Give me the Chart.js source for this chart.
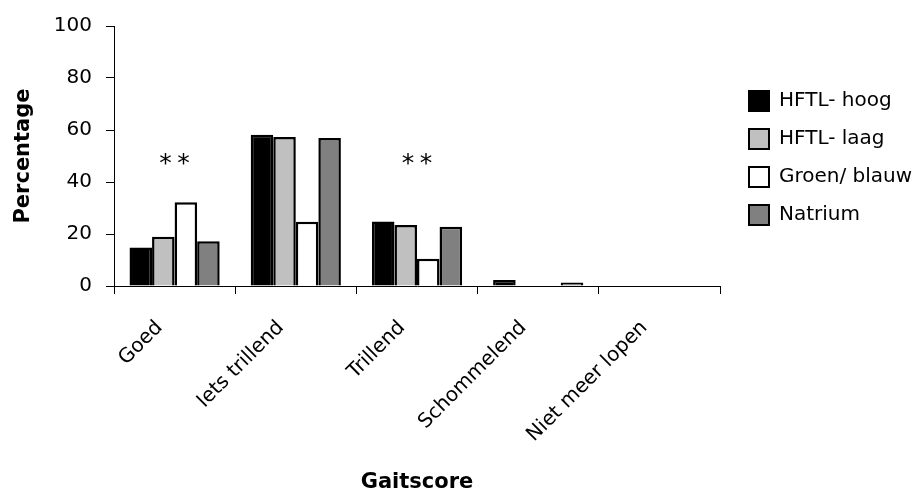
<!DOCTYPE html>
<html>
<head>
<meta charset="utf-8">
<script src="https://cdn.jsdelivr.net/npm/chart.js@4.4.1/dist/chart.umd.min.js"></script>
<style>
  html, body { margin: 0; padding: 0; background: #fff; }
  #wrap { width: 920px; height: 495px; position: relative; }
</style>
</head>
<body>
<div id="wrap"><canvas id="c" width="920" height="495"></canvas></div>
<script>
// ---- data ----
const categories = ['Goed', 'Iets trillend', 'Trillend', 'Schommelend', 'Niet meer lopen'];
const hftlHoog   = [14.8, 58.2, 24.8, 2.3, 0];
const hftlLaag   = [18.9, 57.3, 23.5, 0, 0];
const groenBlauw = [32.2, 24.7, 10.5, 0, 0];
const natrium    = [17.2, 56.9, 22.8, 1.3, 0];
const seriesNames = ['HFTL- hoog', 'HFTL- laag', 'Groen/ blauw', 'Natrium'];
const yTicks = [0, 20, 40, 60, 80, 100];
const starCategories = ['Goed', 'Trillend'];
const starValue = 48.7;

// ---- styles ----
const colors = ['#000000', '#c0c0c0', '#ffffff', '#808080'];
const FONT = 'DejaVu Sans';

const starPlugin = {
  id: 'stars',
  afterDatasetsDraw(chart) {
    const ctx = chart.ctx, xs = chart.scales.x, ys = chart.scales.y;
    ctx.save();
    ctx.fillStyle = '#000';
    ctx.font = '25px "' + FONT + '"';
    ctx.textAlign = 'center';
    ctx.textBaseline = 'middle';
    starCategories.forEach(cat => {
      const x = xs.getPixelForValue(categories.indexOf(cat));
      const y = ys.getPixelForValue(starValue);
      ctx.fillText('*', x - 9, y + 5);
      ctx.fillText('*', x + 9, y + 5);
    });
    ctx.restore();
  }
};

const legendLayoutPlugin = {
  id: 'legendLayout',
  beforeLayout(chart) {
    const lg = chart.legend;
    if (lg && !lg.__patched) {
      const orig = lg.fit;
      lg.fit = function () { orig.call(this); this.width = 200; };
      lg.__patched = true;
    }
  },
  afterLayout(chart) {
    const lg = chart.legend;
    if (lg) { lg.left += 11; lg.right += 11; lg.top += 2; lg.bottom += 2; }
  }
};

const data = [hftlHoog, hftlLaag, groenBlauw, natrium];

new Chart(document.getElementById('c'), {
  type: 'bar',
  data: {
    labels: categories,
    datasets: seriesNames.map((name, i) => ({
      label: name,
      data: data[i],
      backgroundColor: colors[i],
      borderColor: '#000',
      borderWidth: 2.5,
      categoryPercentage: 0.744,
      barPercentage: 1.0
    }))
  },
  options: {
    responsive: false,
    animation: false,
    devicePixelRatio: 1,
    layout: { padding: { top: 24, right: 0, bottom: 0, left: 0 } },
    plugins: {
      tooltip: { enabled: false },
      legend: {
        position: 'right',
        fullSize: false,
        labels: {
          boxWidth: 20,
          boxHeight: 20,
          padding: 18,
          color: '#000',
          font: { family: FONT, size: 20 },
          generateLabels(chart) {
            return chart.data.datasets.map((ds, i) => ({
              text: ds.label,
              fillStyle: colors[i],
              strokeStyle: '#000',
              lineWidth: 2,
              hidden: false,
              datasetIndex: i
            }));
          }
        }
      }
    },
    scales: {
      x: {
        type: 'category',
        offset: true,
        afterFit(s) { s.height = 209; },
        grid: { offset: true, drawOnChartArea: false, tickLength: 8, color: '#000', lineWidth: 1 },
        border: { color: '#000', width: 1 },
        ticks: {
          color: '#000',
          font: { family: FONT, size: 20 },
          maxRotation: 45,
          minRotation: 45,
          padding: 22,
          labelOffset: -15,
          autoSkip: false
        },
        title: {
          display: true,
          text: 'Gaitscore',
          color: '#000',
          font: { family: FONT, size: 21, weight: 'bold' },
          padding: { top: 0, bottom: 0 }
        }
      },
      y: {
        min: 0,
        max: 100,
        afterFit(s) { s.width = 114; },
        afterBuildTicks(s) { s.ticks = yTicks.map(v => ({ value: v })); },
        grid: { drawOnChartArea: false, tickLength: 8, color: '#000', lineWidth: 1 },
        border: { color: '#000', width: 1 },
        ticks: {
          color: '#000',
          font: { family: FONT, size: 20 },
          padding: 14
        },
        title: {
          display: true,
          text: 'Percentage',
          color: '#000',
          font: { family: FONT, size: 21, weight: 'bold' },
          padding: { top: 11, bottom: 0 }
        }
      }
    }
  },
  plugins: [starPlugin, legendLayoutPlugin]
});
</script>
</body>
</html>
